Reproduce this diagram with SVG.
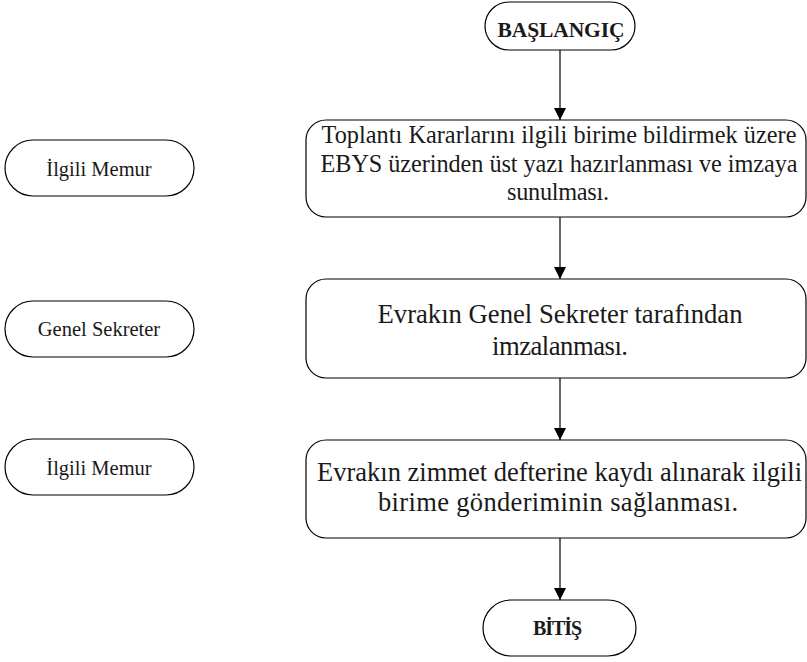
<svg xmlns="http://www.w3.org/2000/svg" width="807" height="662" viewBox="0 0 807 662">
<defs>
<marker id="ah" viewBox="0 0 12 16" refX="12" refY="6" markerWidth="12" markerHeight="16" markerUnits="userSpaceOnUse" orient="auto">
<path d="M0,0 L12,6 L0,12 Z" fill="#000"/>
</marker>
<style>
.sh{fill:#fff;stroke:#000;stroke-width:1.2}
.c{stroke:#000;stroke-width:1.2;fill:none;marker-end:url(#ah)}
</style>
</defs>
<rect width="807" height="662" fill="#fff"/>
<g font-family="'Liberation Serif', 'Times New Roman', serif" fill="#1a1a1a" text-anchor="middle">
<g id="start">
<rect class="sh" x="485" y="2" width="150" height="48" rx="24"/>
<text x="561" y="37" font-size="21.5" font-weight="bold" textLength="127">BAŞLANGIÇ</text>
</g>
<g id="step1" font-size="24.3">
<rect class="sh" x="306" y="120" width="500" height="97" rx="20"/>
<text x="559" y="143" textLength="475">Toplantı Kararlarını ilgili birime bildirmek üzere</text>
<text x="559" y="172" textLength="477">EBYS üzerinden üst yazı hazırlanması ve imzaya</text>
<text x="558" y="200" textLength="102">sunulması.</text>
</g>
<g id="step2" font-size="26.7">
<rect class="sh" x="306" y="279" width="500" height="99" rx="20"/>
<text x="560" y="322.5" textLength="365">Evrakın Genel Sekreter tarafından</text>
<text x="560" y="355" textLength="136">imzalanması.</text>
</g>
<g id="step3" font-size="26.5">
<rect class="sh" x="306" y="440" width="500" height="98" rx="20"/>
<text x="559.5" y="481" textLength="485">Evrakın zimmet defterine kaydı alınarak ilgili</text>
<text x="558" y="511" textLength="360">birime gönderiminin sağlanması.</text>
</g>
<g id="end">
<rect class="sh" x="483" y="600" width="153" height="56" rx="28"/>
<text x="557.5" y="635" font-size="20" font-weight="bold" textLength="49">BİTİŞ</text>
</g>
<g id="role1" font-size="20.5">
<rect class="sh" x="5" y="140" width="189" height="56" rx="28"/>
<text x="99" y="176">İlgili Memur</text>
</g>
<g id="role2" font-size="20.5">
<rect class="sh" x="5" y="301" width="189" height="56" rx="28"/>
<text x="99" y="336">Genel Sekreter</text>
</g>
<g id="role3" font-size="20.5">
<rect class="sh" x="5" y="439" width="189" height="56" rx="28"/>
<text x="99" y="474.5">İlgili Memur</text>
</g>
</g>
<g id="connectors">
<line class="c" x1="560" y1="50" x2="560" y2="120"/>
<line class="c" x1="560" y1="217" x2="560" y2="279"/>
<line class="c" x1="560" y1="378" x2="560" y2="440"/>
<line class="c" x1="560" y1="538" x2="560" y2="600"/>
</g>
</svg>
